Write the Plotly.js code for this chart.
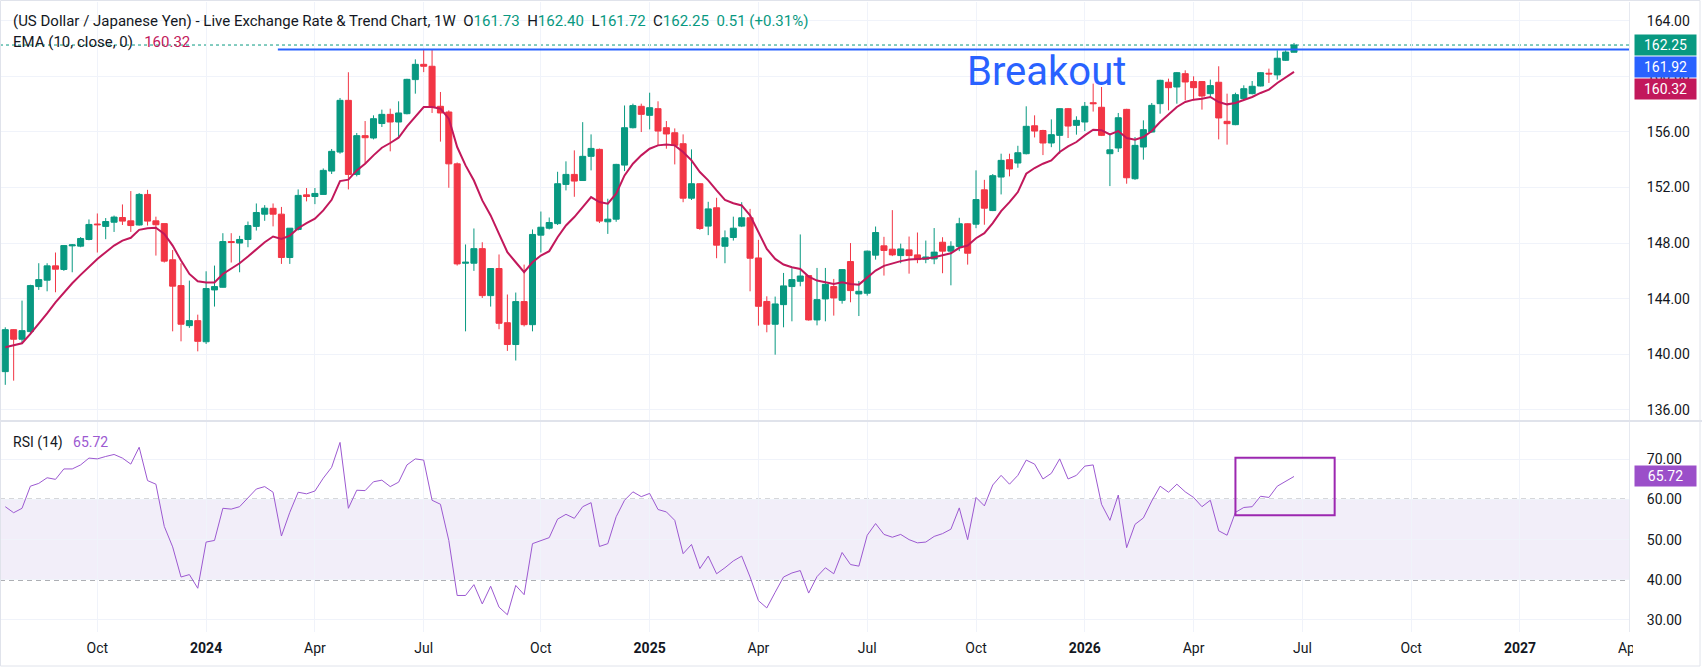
<!DOCTYPE html>
<html>
<head>
<meta charset="utf-8">
<script src="https://cdn.plot.ly/plotly-3.0.1.min.js"></script>
<style>
  html, body { margin: 0; padding: 0; background: #ffffff; }
  #chart { width: 1702px; height: 671px; }
</style>
</head>
<body>
<div id="chart"></div>
<script>
// USD/JPY weekly candles, first bar is the week of 2023-07-17
const firstWeek = '2023-07-17';

const opens = [
  138.75, 141.77, 141.08, 141.63, 144.87, 145.33, 146.36, 146.10, 147.80, 147.78,
  148.26, 149.37, 149.20, 149.50, 149.84, 149.60, 149.30, 151.50, 149.60, 149.40,
  146.80, 144.94, 142.06, 142.42, 140.90, 144.63, 144.82, 148.11, 148.00, 148.26,
  149.20, 150.08, 150.50, 150.08, 146.96, 148.98, 151.47, 151.35, 151.50, 153.18,
  154.55, 158.27, 152.94, 155.73, 155.56, 156.60, 157.26, 156.71, 157.31, 159.76,
  160.86, 160.72, 157.84, 157.43, 153.70, 146.55, 146.55, 147.60, 144.22, 146.17,
  142.27, 140.70, 143.79, 142.13, 148.57, 149.07, 149.40, 152.22, 152.94, 152.50,
  154.24, 154.74, 149.53, 149.72, 153.61, 156.30, 157.84, 157.19, 157.67, 156.30,
  155.94, 155.15, 151.23, 152.27, 149.22, 150.54, 147.77, 148.40, 149.22, 149.82,
  146.93, 143.80, 142.16, 143.57, 144.87, 145.25, 145.66, 142.47, 143.98, 144.87,
  143.88, 146.67, 144.34, 144.39, 147.13, 147.80, 147.56, 147.10, 147.51, 147.15,
  146.84, 146.86, 148.06, 147.42, 147.75, 149.39, 149.36, 151.83, 150.34, 152.75,
  154.00, 153.76, 154.43, 156.44, 156.10, 155.20, 155.75, 157.67, 156.47, 156.71,
  158.10, 157.77, 154.43, 154.84, 157.62, 152.63, 154.91, 155.99, 158.03, 159.57,
  159.23, 160.19, 159.62, 159.62, 158.75, 159.57, 156.76, 156.52, 158.39, 158.75,
  159.30, 160.22, 160.10, 161.15, 161.73
];
const highs = [
  141.94, 141.80, 143.86, 145.00, 146.55, 146.55, 147.32, 147.85, 147.93, 148.43,
  149.70, 150.13, 149.80, 149.98, 150.78, 151.74, 151.60, 151.83, 149.90, 149.40,
  147.50, 146.55, 145.30, 142.85, 145.97, 146.38, 148.71, 148.71, 148.52, 149.55,
  150.85, 150.73, 150.85, 150.60, 149.07, 151.86, 151.96, 151.96, 153.37, 154.77,
  158.44, 160.29, 155.92, 156.78, 157.19, 157.60, 157.67, 158.20, 159.82, 161.22,
  161.90, 161.95, 158.87, 157.55, 153.80, 147.90, 149.05, 148.06, 146.20, 147.18,
  144.30, 144.44, 146.45, 148.98, 150.27, 149.84, 153.13, 153.88, 154.67, 156.70,
  155.82, 154.80, 151.19, 153.70, 157.90, 158.03, 158.03, 158.82, 158.20, 156.78,
  156.25, 155.82, 154.74, 152.30, 150.97, 151.26, 148.91, 149.90, 150.94, 150.46,
  148.23, 144.17, 144.15, 145.85, 146.19, 148.62, 145.70, 146.21, 146.21, 145.42,
  146.12, 148.00, 145.27, 147.46, 149.19, 148.45, 150.37, 147.96, 148.47, 148.76,
  148.18, 149.08, 148.42, 148.13, 149.82, 149.42, 153.23, 152.55, 152.97, 154.43,
  154.43, 155.00, 157.84, 157.19, 156.15, 156.90, 157.70, 157.72, 157.12, 158.15,
  159.47, 159.23, 155.80, 157.36, 157.66, 155.63, 156.83, 158.08, 159.75, 159.83,
  160.31, 160.43, 160.00, 159.66, 159.76, 160.72, 158.75, 158.82, 159.35, 159.66,
  160.30, 160.55, 161.87, 161.87, 162.40
];
const lows = [
  137.80, 138.10, 140.74, 141.46, 144.63, 144.53, 144.46, 146.00, 145.90, 147.70,
  148.20, 147.32, 148.28, 148.80, 149.30, 148.80, 149.26, 149.26, 147.10, 146.60,
  141.65, 140.93, 141.90, 140.21, 140.74, 143.43, 144.80, 146.60, 145.90, 147.70,
  148.90, 149.60, 149.20, 146.50, 146.50, 148.90, 151.00, 150.80, 151.50, 152.97,
  154.43, 151.86, 152.80, 153.70, 155.46, 156.35, 154.60, 155.63, 157.26, 158.75,
  160.30, 157.36, 155.30, 151.98, 146.38, 141.65, 146.00, 144.05, 143.43, 141.80,
  140.24, 139.55, 142.00, 141.65, 147.32, 148.98, 149.30, 151.79, 151.33, 152.50,
  153.23, 149.44, 148.66, 149.53, 153.18, 156.25, 155.99, 156.18, 155.03, 154.79,
  153.66, 150.94, 151.10, 148.95, 148.57, 146.91, 146.55, 148.18, 149.15, 144.53,
  142.06, 141.58, 139.97, 141.94, 142.37, 144.89, 142.42, 142.08, 142.37, 142.78,
  143.64, 143.74, 142.75, 144.22, 146.81, 145.66, 147.06, 146.55, 145.80, 146.55,
  146.55, 146.48, 145.83, 144.96, 147.42, 146.45, 149.07, 149.32, 150.30, 151.50,
  152.80, 153.42, 154.38, 155.60, 154.33, 154.90, 154.43, 155.56, 155.80, 156.06,
  157.46, 155.70, 152.10, 154.55, 152.27, 152.55, 154.00, 155.95, 157.31, 157.55,
  158.03, 158.27, 158.27, 157.60, 158.51, 155.46, 155.08, 156.48, 158.35, 158.70,
  159.27, 159.52, 159.76, 161.10, 161.72
];
const closes = [
  141.77, 141.08, 141.70, 144.94, 145.37, 146.36, 146.12, 147.82, 147.87, 148.33,
  149.34, 149.32, 149.55, 149.87, 149.58, 149.26, 151.50, 149.58, 149.32, 146.70,
  144.90, 142.16, 142.42, 140.93, 144.73, 144.87, 148.11, 148.04, 148.26, 149.26,
  150.20, 150.51, 150.08, 146.96, 149.07, 151.43, 151.35, 151.57, 153.23, 154.60,
  158.27, 152.94, 155.73, 155.58, 156.95, 157.26, 156.71, 157.36, 159.78, 160.86,
  160.72, 157.79, 157.36, 153.70, 146.50, 146.62, 147.60, 144.22, 146.17, 142.23,
  140.70, 143.79, 142.13, 148.62, 149.14, 149.48, 152.27, 152.94, 152.46, 154.24,
  154.81, 149.58, 149.72, 153.66, 156.30, 157.89, 157.26, 157.74, 156.06, 155.85,
  155.03, 151.23, 152.27, 149.05, 150.46, 147.85, 148.38, 149.07, 149.82, 146.91,
  143.45, 142.16, 143.62, 144.92, 145.37, 145.63, 142.47, 143.93, 145.03, 144.05,
  146.09, 144.58, 144.53, 147.42, 148.76, 147.47, 147.15, 147.58, 147.10, 146.81,
  147.00, 147.35, 147.42, 147.77, 149.39, 147.27, 151.13, 150.51, 152.85, 153.95,
  153.33, 154.50, 156.40, 156.06, 155.20, 155.80, 157.67, 156.42, 156.83, 157.84,
  158.03, 155.75, 154.71, 157.02, 152.70, 155.03, 156.16, 157.91, 159.71, 159.18,
  160.26, 159.59, 159.18, 158.58, 159.33, 157.00, 156.59, 158.68, 159.11, 159.28,
  160.26, 160.17, 161.30, 161.74, 162.25
];

// EMA (10, close) per weekly bar
const ema10 = [
  140.50, 140.62, 140.79, 141.46, 142.18, 142.95, 143.74, 144.46, 145.11, 145.71,
  146.31, 146.86, 147.34, 147.82, 148.18, 148.38, 148.95, 149.07, 149.10, 148.66,
  147.82, 146.74, 145.78, 145.25, 145.16, 145.16, 145.78, 146.14, 146.55, 147.03,
  147.58, 148.06, 148.47, 148.30, 148.54, 149.07, 149.43, 149.75, 150.35, 151.11,
  152.46, 152.56, 153.23, 153.71, 154.31, 154.86, 155.20, 155.58, 156.40, 157.12,
  157.79, 157.79, 157.67, 156.95, 154.91, 153.59, 152.50, 151.07, 149.99, 148.66,
  147.34, 146.62, 145.90, 146.62, 147.10, 147.42, 148.42, 149.27, 149.87, 150.59,
  151.31, 150.95, 150.83, 151.55, 152.87, 153.71, 154.31, 154.79, 155.03, 155.10,
  155.03, 154.55, 153.95, 153.11, 152.51, 151.79, 151.11, 150.87, 150.71, 149.99,
  148.78, 147.58, 146.86, 146.46, 146.26, 146.14, 145.59, 145.30, 145.18, 145.06,
  145.18, 145.06, 145.01, 145.49, 146.02, 146.36, 146.55, 146.70, 146.82, 146.84,
  146.89, 146.98, 147.10, 147.27, 147.66, 147.82, 148.35, 148.71, 149.44, 150.30,
  150.95, 151.67, 152.99, 153.40, 153.71, 153.95, 154.55, 154.96, 155.27, 155.75,
  156.16, 156.11, 155.82, 156.06, 155.56, 155.44, 155.63, 156.06, 156.71, 157.26,
  157.79, 158.15, 158.32, 158.39, 158.51, 158.15, 157.98, 158.08, 158.27, 158.51,
  158.80, 159.04, 159.52, 159.90, 160.32
];

// RSI (14) per weekly bar
const rsi14 = [
  58.2, 56.7, 57.8, 63.3, 64.0, 65.4, 65.0, 67.6, 67.6, 68.6,
  70.3, 70.1, 70.7, 71.2, 70.3, 68.8, 73.0, 64.7, 63.8, 53.3,
  48.2, 40.7, 41.3, 37.9, 49.4, 49.8, 57.8, 57.6, 58.2, 60.5,
  62.6, 63.2, 61.8, 50.9, 56.8, 61.8, 61.4, 62.1, 65.3, 68.0,
  74.2, 57.8, 62.3, 62.2, 64.4, 64.8, 63.2, 64.3, 68.6, 70.1,
  69.8, 59.8, 58.8, 49.8, 36.1, 36.1, 38.8, 34.0, 38.4, 33.2,
  31.3, 38.6, 36.3, 49.0, 49.8, 50.5, 55.1, 56.3, 55.3, 58.2,
  59.2, 48.3, 49.0, 55.7, 59.8, 61.9, 60.7, 61.5, 57.5, 56.9,
  54.8, 46.5, 48.8, 42.8, 45.9, 41.5, 43.0, 44.7, 45.9, 40.7,
  34.8, 33.0, 36.9, 40.7, 41.7, 42.3, 36.7, 40.8, 43.0, 41.5,
  46.8, 43.8, 43.4, 51.1, 54.0, 51.3, 50.6, 51.3, 50.0, 49.2,
  49.4, 50.8, 51.5, 52.6, 57.9, 50.0, 60.5, 58.4, 63.6, 66.0,
  63.8, 66.0, 69.8, 68.8, 65.1, 66.5, 70.1, 65.1, 66.0, 68.3,
  68.6, 58.8, 54.8, 61.1, 48.0, 53.8, 55.4, 59.6, 63.3, 61.8,
  63.8, 61.9, 60.5, 58.2, 59.8, 52.2, 51.1, 56.8, 58.0, 58.2,
  60.8, 60.5, 63.3, 64.6, 65.72
];

// Horizontal resistance level that price has just cleared
const breakoutLevel = 161.92;
const breakoutFrom = '2024-03-01';
const breakoutLabel = 'Breakout';
const breakoutLabelAt = '2025-12-04';

// RSI highlight box
const rsiBoxDates = ['2026-05-11', '2026-08-02'];
const rsiBoxLevels = [56.1, 70.4];
const rsiBand = [40, 60];

// Time axis: first weekly bar of each quarter month
const timeTicks = ['2023-10-02', '2024-01-01', '2024-04-01', '2024-07-01', '2024-10-07',
  '2025-01-06', '2025-04-07', '2025-07-07', '2025-10-06', '2026-01-05', '2026-04-06',
  '2026-07-06', '2026-10-05', '2027-01-04', '2027-04-05'];
const timeLabels = ['Oct', '<b>2024</b>', 'Apr', 'Jul', 'Oct', '<b>2025</b>', 'Apr', 'Jul',
  'Oct', '<b>2026</b>', 'Apr', 'Jul', 'Oct', '<b>2027</b>', 'Apr'];
const priceTicks = [136, 140, 144, 148, 152, 156, 160, 164];
const rsiTicks = [30, 40, 50, 60, 70];

const weeks = closes.map((_, k) => {
  const d = new Date(firstWeek + 'T00:00:00Z');
  d.setUTCDate(d.getUTCDate() + 7 * k);
  return d.toISOString().slice(0, 10);
});

const last = closes.length - 1;
const GREEN = '#089981', RED = '#f23645', EMA_C = '#c2185b', BLUE = '#2962ff';
const RSI_C = '#9c59d1', BOX_C = '#9c27b0', TXT = '#131722', GRID = '#f0f3fa';
const FONT = 'Roboto, "Noto Sans", sans-serif';

// pixel helpers for paper-referenced decorations
const plotL = 0, plotR = 1629, plotT = 2, plotB = 632;
const px = v => (v - plotL) / (plotR - plotL);
const py = v => (plotB - v) / (plotB - plotT);

const traces = [
  {
    type: 'candlestick', x: weeks, open: opens, high: highs, low: lows, close: closes,
    xaxis: 'x', yaxis: 'y', whiskerwidth: 0, hoverinfo: 'skip',
    increasing: { line: { color: GREEN, width: 1 }, fillcolor: GREEN },
    decreasing: { line: { color: RED, width: 1 }, fillcolor: RED }
  },
  {
    type: 'scatter', mode: 'lines', x: weeks, y: ema10, xaxis: 'x', yaxis: 'y',
    line: { color: EMA_C, width: 2 }, hoverinfo: 'skip'
  },
  {
    type: 'scatter', mode: 'lines', x: weeks, y: rsi14, xaxis: 'x', yaxis: 'y2',
    line: { color: RSI_C, width: 1 }, hoverinfo: 'skip'
  }
];

const f2 = v => v.toFixed(2);
const g = s => '<span style="color:' + GREEN + '">' + s + '</span>';
const sp = '&nbsp;&nbsp;';
const headerText = '(US Dollar / Japanese Yen) - Live Exchange Rate &amp; Trend Chart, 1W' + sp +
  'O' + g(f2(opens[last])) + sp + 'H' + g(f2(highs[last])) + sp + 'L' + g(f2(lows[last])) + sp +
  'C' + g(f2(closes[last])) + sp + g('0.51 (+0.31%)');

const tag = (y, yref, text, color, shift) => ({
  xref: 'paper', yref: yref, x: px(1634), y: y, xanchor: 'left', yanchor: 'middle',
  yshift: shift || 0, text: text, showarrow: false, bgcolor: color, borderpad: 3,
  width: 55, height: 14, align: 'center',
  font: { family: FONT, size: 14, color: '#ffffff' }
});

const layout = {
  width: 1702, height: 671,
  margin: { l: 0, r: 73, t: 2, b: 39, pad: 0 },
  paper_bgcolor: '#ffffff', plot_bgcolor: '#ffffff',
  showlegend: false, hovermode: false,
  boxgap: 0.28, boxgroupgap: 0,
  font: { family: FONT, size: 14, color: TXT },
  xaxis: {
    type: 'date', anchor: 'y2', range: ['2023-07-12 14:00', '2027-04-05 05:00'],
    tickmode: 'array', tickvals: timeTicks, ticktext: timeLabels,
    showgrid: true, gridcolor: GRID, gridwidth: 1, zeroline: false, showline: false,
    ticks: '', ticklabelstandoff: 6, rangeslider: { visible: false }, fixedrange: true,
    tickfont: { family: FONT, size: 14, color: TXT }, automargin: false
  },
  yaxis: {
    domain: [py(420), 1], range: [135.27, 165.345], side: 'right', anchor: 'x',
    tickmode: 'array', tickvals: priceTicks, tickformat: '.2f',
    showgrid: true, gridcolor: GRID, zeroline: false, showline: true, linecolor: '#e6e9f0',
    ticks: '', ticklabelstandoff: 14, fixedrange: true, automargin: false,
    tickfont: { family: FONT, size: 14, color: TXT }
  },
  yaxis2: {
    domain: [0, py(422)], range: [27.01, 79.28], side: 'right', anchor: 'x',
    tickmode: 'array', tickvals: rsiTicks, tickformat: '.2f',
    showgrid: true, gridcolor: GRID, zeroline: false, showline: true, linecolor: '#e6e9f0',
    ticks: '', ticklabelstandoff: 14, fixedrange: true, automargin: false,
    tickfont: { family: FONT, size: 14, color: TXT }
  },
  shapes: [
    // RSI neutral band
    { type: 'rect', xref: 'paper', yref: 'y2', x0: 0, x1: 1, y0: rsiBand[0], y1: rsiBand[1],
      fillcolor: 'rgba(126,87,194,0.1)', line: { width: 0 }, layer: 'between' },
    { type: 'line', xref: 'paper', yref: 'y2', x0: 0, x1: 1, y0: rsiBand[1], y1: rsiBand[1],
      line: { color: '#5d606b', width: 1.2, dash: '5px,4px' }, layer: 'between' },
    { type: 'line', xref: 'paper', yref: 'y2', x0: 0, x1: 1, y0: rsiBand[0], y1: rsiBand[0],
      line: { color: '#5d606b', width: 1.2, dash: '5px,4px' }, layer: 'between' },
    // last price line
    { type: 'line', xref: 'paper', yref: 'y', x0: 0, x1: 1, y0: closes[last], y1: closes[last],
      line: { color: GREEN, width: 1, dash: 'dot' }, layer: 'between' },
    // breakout level
    { type: 'line', xref: 'x', yref: 'y', x0: breakoutFrom, x1: '2027-04-06',
      y0: breakoutLevel, y1: breakoutLevel, line: { color: BLUE, width: 2 }, layer: 'above' },
    // RSI highlight box
    { type: 'rect', xref: 'x', yref: 'y2', x0: rsiBoxDates[0], x1: rsiBoxDates[1],
      y0: rsiBoxLevels[0], y1: rsiBoxLevels[1], line: { color: BOX_C, width: 2 },
      fillcolor: 'rgba(0,0,0,0)', layer: 'above' },
    // pane separator
    { type: 'line', xref: 'paper', yref: 'paper', x0: 0, x1: px(1702), y0: py(421), y1: py(421),
      line: { color: '#e0e3eb', width: 2 }, layer: 'above' },
    // clip the last time label under the price scale
    { type: 'rect', xref: 'paper', yref: 'paper', x0: px(1633), x1: px(1702), y0: py(671), y1: py(633),
      fillcolor: '#ffffff', line: { width: 0 }, layer: 'above' },
    // outer frame
    { type: 'rect', xref: 'paper', yref: 'paper', x0: px(0.5), x1: px(1700), y0: py(666), y1: py(0.5),
      fillcolor: 'rgba(0,0,0,0)', line: { color: '#e0e3eb', width: 1 }, layer: 'above' }
  ],
  annotations: [
    { xref: 'paper', yref: 'paper', x: px(11), y: py(21), xanchor: 'left', yanchor: 'middle',
      showarrow: false, text: headerText, font: { family: FONT, size: 15, color: TXT } },
    { xref: 'paper', yref: 'paper', x: px(11), y: py(42), xanchor: 'left', yanchor: 'middle',
      showarrow: false, font: { family: FONT, size: 15, color: TXT },
      text: 'EMA (10, close, 0)&nbsp;&nbsp;&nbsp;<span style="color:' + EMA_C + '">' + f2(ema10[last]) + '</span>' },
    { xref: 'paper', yref: 'paper', x: px(11), y: py(442), xanchor: 'left', yanchor: 'middle',
      showarrow: false, font: { family: FONT, size: 14, color: TXT },
      text: 'RSI (14)&nbsp;&nbsp;&nbsp;<span style="color:' + RSI_C + '">' + f2(rsi14[last]) + '</span>' },
    { xref: 'x', yref: 'y', x: breakoutLabelAt, y: 160.38, xanchor: 'center', yanchor: 'middle',
      showarrow: false, text: breakoutLabel, font: { family: FONT, size: 40, color: BLUE } },
    tag(closes[last], 'y', f2(closes[last]), GREEN, 0),
    tag(breakoutLevel, 'y', f2(breakoutLevel), BLUE, -17.3),
    tag(ema10[last], 'y', f2(ema10[last]), EMA_C, -16.7),
    tag(rsi14[last], 'y2', f2(rsi14[last]), '#9b4fc9', 0)
  ]
};

Plotly.newPlot('chart', traces, layout, { displayModeBar: false, staticPlot: true });
</script>
</body>
</html>
